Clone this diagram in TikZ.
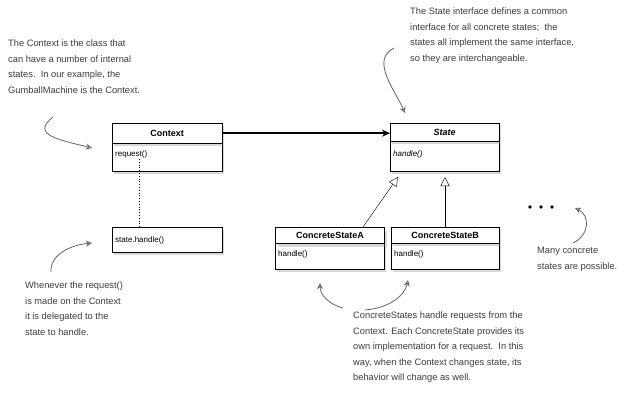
\documentclass[tikz,border=0pt]{standalone}
\usepackage{fontspec}
\setmainfont{Liberation Sans}
\usetikzlibrary{shadows,arrows.meta}
\definecolor{note}{RGB}{60,60,60}
\begin{document}
\begin{tikzpicture}[x=1pt,y=-1pt,
  hdr/.style={draw,fill=white,anchor=north west,minimum height=20pt,inner sep=0pt,font=\bfseries\fontsize{9}{10}\selectfont,drop shadow={shadow xshift=2pt,shadow yshift=-3pt,opacity=0.3}},
  bdy/.style={draw,fill=white,anchor=north west,inner sep=2pt,align=left,text depth=0pt,font=\fontsize{8}{9}\selectfont,drop shadow={shadow xshift=2pt,shadow yshift=-3pt,opacity=0.3}},
  txt/.style={anchor=north west,align=left,inner sep=0pt,text=note,font=\fontsize{9.3}{15.5}\selectfont},
  ann/.style={draw=note!80,thick,-{Stealth[open,length=6pt,width=6pt]}},
  inh/.style={draw,-{Triangle[open,length=9pt,width=9pt]}}]
\useasboundingbox (0,0) rectangle (640,405);
% Context
\node[bdy,minimum width=110pt,minimum height=28pt,text width=104pt] (ctxb) at (112,143) {\raisebox{8pt}{request()}};
\node[hdr,minimum width=110pt] (ctx) at (112,123) {Context};
% State
\node[bdy,minimum width=109pt,minimum height=30pt,text width=103pt] (stb) at (390,141) {\raisebox{6pt}{\itshape handle()}};
\node[hdr,minimum width=109pt,minimum height=18pt] (st) at (390,123) {\itshape State};
% state.handle
\node[bdy,minimum width=110pt,minimum height=25pt,text width=104pt] (sh) at (112,227) {state.handle()};
% Concrete A
\node[bdy,minimum width=109pt,minimum height=26pt,text width=103pt] (cab) at (275,243) {\raisebox{6pt}{handle()}};
\node[hdr,minimum width=109pt,minimum height=16pt,line width=1pt] (ca) at (275,227) {ConcreteStateA};
% Concrete B
\node[bdy,minimum width=108pt,minimum height=26pt,text width=102pt] (cbb) at (391,243) {\raisebox{6pt}{handle()}};
\node[hdr,minimum width=108pt,minimum height=16pt] (cb) at (391,227) {ConcreteStateB};
% connectors
\draw[line width=1.5pt,-{Stealth[length=8pt,width=7pt]}] (ctx.east) -- (st.west |- ctx.east);
\draw[dotted,thick] (139,159) coordinate (d1) -- (sh.north -| d1);
\coordinate (ta) at (398,177);
\coordinate (tb) at (445,177);
\draw[inh] (363,227) -- (ta);
\draw[inh] (cb.north -| tb) -- (tb);
% dots
\foreach \x in {530,541,552} \fill (\x,207) circle (1.8pt);
% notes
\node[txt] (n1) at (8,40) {The Context is the class that\\can have a number of internal\\states.\ \ In our example, the\\GumballMachine is the Context.};
\node[txt] (n2) at (410,8) {The State interface defines a common\\interface for all concrete states;\ \ the\\states all implement the same interface,\\so they are interchangeable.};
\node[txt] (n3) at (25,282) {Whenever the request()\\is made on the Context\\it is delegated to the\\state to handle.};
\node[txt] (n4) at (353,312) {ConcreteStates handle requests from the\\Context. Each ConcreteState provides its\\own implementation for a request.\ \ In this\\way, when the Context changes state, its\\behavior will change as well.};
\node[txt] (n5) at (537,247) {Many concrete\\states are possible.};
% annotation arrows
\draw[ann] (53,117) .. controls (30,135) and (60,140) .. (92,148);
\draw[ann] (394,48) .. controls (370,60) and (395,90) .. (405,113);
\draw[ann] (51,272) .. controls (50,255) and (70,245) .. (92,243);
\draw[ann] (343,308) .. controls (330,305) and (320,295) .. (320,283);
\draw[ann] (365,310) .. controls (390,308) and (405,295) .. (408,280);
\draw[ann] (573,243) .. controls (590,235) and (590,215) .. (575,208);
\end{tikzpicture}
\end{document}
